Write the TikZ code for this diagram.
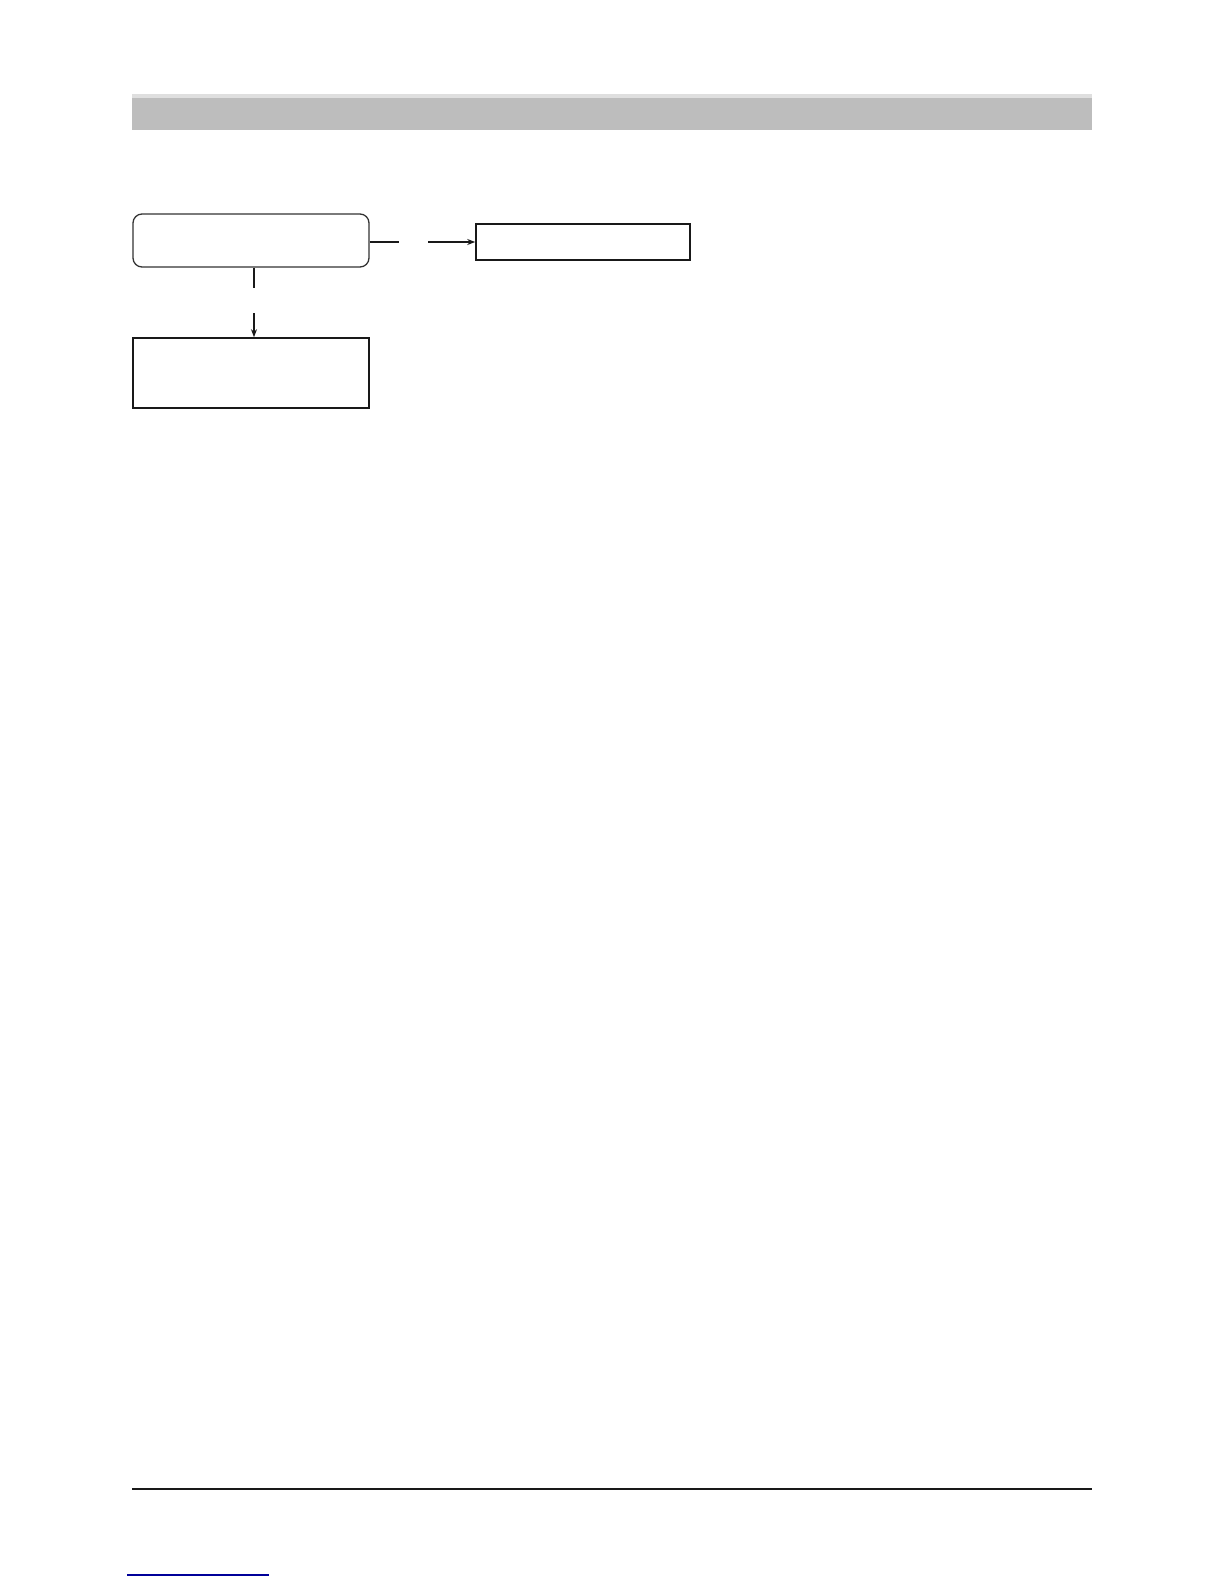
\documentclass[tikz,border=0pt]{standalone}
\usetikzlibrary{arrows.meta}
\begin{document}
\begin{tikzpicture}[x=1pt,y=-1pt,
  boxline/.style={draw=black!90, line width=1.6pt, inner sep=0pt},
  roundline/.style={draw=black!80, line width=1.3pt, rounded corners=9pt, inner sep=0pt},
  conn/.style={draw=black!90, line width=1.3pt},
  arr/.style={conn, -{Stealth[length=8pt,width=6pt]}}]
\useasboundingbox (0,0) rectangle (1224,1584);
% header bar
\fill[gray!52] (132,94) rectangle (1092,130);
\fill[gray!25] (132,94) rectangle (1092,98);
% nodes
\node[roundline, minimum width=236pt, minimum height=53pt] (top) at (251,240.5) {};
\node[boxline, minimum width=214pt, minimum height=36pt] (right) at (583,242) {};
\node[boxline, minimum width=236pt, minimum height=70pt] (low) at (251,373) {};
% connectors with gaps
\coordinate (h1) at (399,242);
\coordinate (h2) at (428,242);
\coordinate (v1) at (254,288);
\coordinate (v2) at (254,313);
\draw[conn] (top.east |- h1) -- (h1);
\draw[arr] (h2) -- (right.west);
\draw[conn] (top.south -| v1) -- (v1);
\draw[arr] (v2) -- (low.north -| v2);
% footer
\coordinate (fl) at (132,1489);
\coordinate (fr) at (1092,1489);
\draw[black!90, line width=2pt] (fl) -- (fr);
\coordinate (bl) at (127,1575);
\coordinate (br) at (269,1575);
\draw[blue!60!black, line width=1.2pt] (bl) -- (br);
\end{tikzpicture}
\end{document}
